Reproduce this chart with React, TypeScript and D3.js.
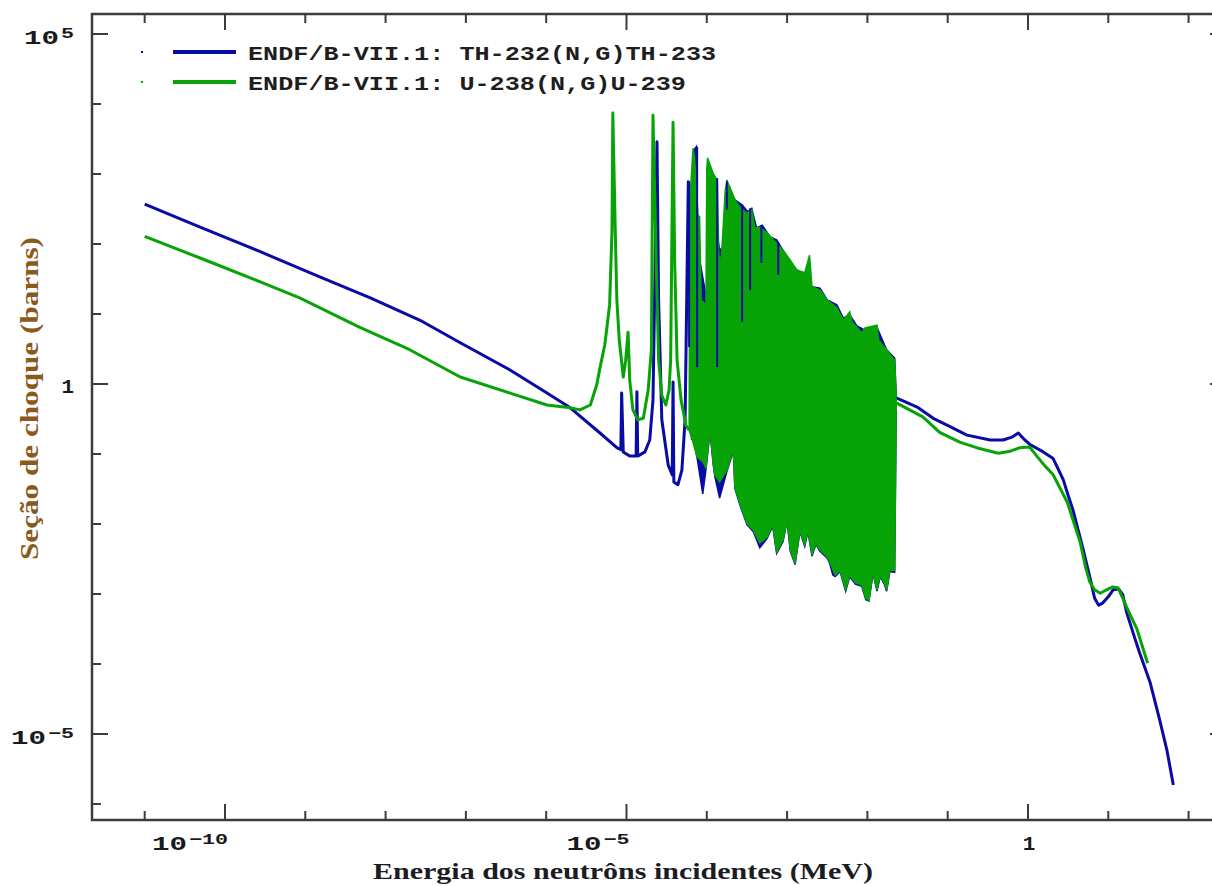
import * as d3 from 'd3'

type P = [number, number]

// all pairs are [log10(E / MeV), log10(sigma / barns)]
const thThermal: P[] = [
  [-11.0, 2.57], [-10.31, 2.24], [-9.56, 1.89], [-8.82, 1.53], [-8.19, 1.23], [-7.57, 0.91],
  [-7.07, 0.59], [-6.45, 0.2], [-5.99, -0.13], [-5.7, -0.34], [-5.33, -0.7], [-5.12, -0.91],
]
const thResolved: P[] = [
  [-5.07, -0.94], [-5.06, -0.13], [-5.04, -0.97], [-4.96, -1.03], [-4.88, -1.03], [-4.87, -0.11],
  [-4.86, -1.03], [-4.77, -0.97], [-4.71, -0.8], [-4.67, -0.23], [-4.65, 1.2], [-4.62, 3.46],
  [-4.6, 1.2], [-4.56, -0.51], [-4.48, -1.16], [-4.43, -1.3], [-4.42, 0.03], [-4.41, -1.4],
  [-4.36, -1.44], [-4.31, -1.23], [-4.27, -0.51], [-4.25, 1.2], [-4.23, 2.89], [-4.21, 1.2],
  [-4.18, -0.8],
]
// unresolved band: upper edge left->right, then lower edge right->left
const thBand: P[] = [
  [-4.17, -0.8], [-4.16, 3.34], [-4.13, 3.39], [-4.11, 1.91], [-4.0, 1.2], [-3.99, 2.99],
  [-3.94, 2.91], [-3.87, 2.13], [-3.84, 1.91], [-3.77, 1.99], [-3.75, 2.91], [-3.71, 2.77],
  [-3.65, 2.63], [-3.56, 2.56], [-3.49, 2.46], [-3.44, 2.51], [-3.38, 2.23], [-3.31, 2.27],
  [-3.21, 2.1], [-3.13, 2.06], [-3.05, 1.91], [-2.96, 1.74], [-2.88, 1.63], [-2.78, 1.56],
  [-2.69, 1.39], [-2.59, 1.37], [-2.5, 1.2], [-2.38, 1.13], [-2.3, 0.94], [-2.22, 0.99],
  [-2.13, 0.83], [-2.03, 0.77], [-1.88, 0.81], [-1.76, 0.49], [-1.66, 0.37], [-1.64, -0.2],
  [-1.66, -2.69], [-1.72, -2.68], [-1.76, -2.96], [-1.79, -2.86], [-1.84, -2.75], [-1.88, -2.96],
  [-1.93, -2.71], [-1.98, -3.1], [-2.02, -3.08], [-2.07, -2.89], [-2.15, -2.86], [-2.22, -2.75],
  [-2.27, -2.96], [-2.34, -2.68], [-2.4, -2.75], [-2.43, -2.73], [-2.47, -2.56], [-2.5, -2.49],
  [-2.59, -2.39], [-2.64, -2.29], [-2.69, -2.46], [-2.74, -2.11], [-2.78, -2.32], [-2.84, -2.11],
  [-2.9, -2.58], [-2.96, -2.39], [-3.0, -1.96], [-3.05, -2.25], [-3.13, -2.42], [-3.18, -2.03],
  [-3.25, -2.21], [-3.34, -2.34], [-3.42, -2.11], [-3.5, -2.01], [-3.59, -1.72], [-3.65, -1.49],
  [-3.67, -0.96], [-3.75, -1.25], [-3.84, -1.63], [-3.9, -1.32], [-3.92, -1.15], [-3.96, -0.68],
  [-4.01, -1.22], [-4.05, -1.57], [-4.12, -1.06],
]
// Th resonances that show through gaps in the U band: [logE, top, bottom]
const thGapSpikes: [number, number, number][] = [
  [-4.22, 2.89, 0.53], [-4.12, 3.39, 0.24], [-3.87, 2.94, 0.24], [-3.75, 2.89, 2.49],
  [-3.56, 2.56, 0.89], [-3.46, 2.51, 1.34], [-3.32, 2.24, 1.73], [-3.11, 2.03, 1.56],
]
const thFast: P[] = [
  [-1.64, -0.2], [-1.38, -0.33], [-1.18, -0.49], [-0.97, -0.61], [-0.76, -0.73], [-0.47, -0.8],
  [-0.31, -0.8], [-0.2, -0.76], [-0.12, -0.7], [-0.04, -0.8], [0.02, -0.86], [0.19, -0.97],
  [0.31, -1.06], [0.37, -1.2], [0.44, -1.37], [0.5, -1.59], [0.56, -1.8], [0.68, -2.33],
  [0.77, -2.76], [0.83, -3.06], [0.88, -3.16], [0.93, -3.13], [1.0, -3.04], [1.06, -2.94],
  [1.13, -2.93], [1.18, -3.01], [1.23, -3.27], [1.33, -3.63], [1.39, -3.84], [1.52, -4.26],
  [1.64, -4.8], [1.73, -5.23], [1.81, -5.73],
]

const uThermal: P[] = [
  [-11.0, 2.11], [-10.31, 1.8], [-9.56, 1.46], [-9.07, 1.23], [-8.32, 0.81], [-7.7, 0.49],
  [-7.07, 0.1], [-6.45, -0.13], [-5.99, -0.3], [-5.7, -0.34], [-5.58, -0.37], [-5.45, -0.3],
  [-5.37, -0.01],
]
const uResolved: P[] = [
  [-5.33, 0.23], [-5.27, 0.56], [-5.24, 0.84], [-5.21, 1.13], [-5.18, 2.2], [-5.17, 3.87],
  [-5.14, 2.2], [-5.12, 1.2], [-5.09, 0.63], [-5.04, 0.1], [-5.01, 0.34], [-4.98, 0.74],
  [-4.96, 0.06], [-4.92, -0.37], [-4.86, -0.51], [-4.79, -0.49], [-4.73, -0.09], [-4.69, 0.49],
  [-4.67, 3.84], [-4.63, 1.77], [-4.6, 0.34], [-4.56, -0.16], [-4.51, -0.3], [-4.47, -0.09],
  [-4.45, 0.34], [-4.42, 3.74], [-4.4, 1.77], [-4.37, 0.34], [-4.32, -0.23], [-4.26, -0.59],
  [-4.22, -0.66],
]
const uBand: P[] = [
  [-4.22, -0.66], [-4.21, 2.63], [-4.18, 3.2], [-4.17, 3.37], [-4.15, 3.2], [-4.11, 2.41],
  [-4.09, 2.39], [-4.07, 1.2], [-4.01, 1.13], [-4.0, 3.06], [-3.99, 3.23], [-3.92, 3.01],
  [-3.87, 2.91], [-3.85, 1.84], [-3.82, 1.77], [-3.8, 2.16], [-3.77, 2.77], [-3.75, 2.89],
  [-3.71, 2.81], [-3.65, 2.63], [-3.59, 2.53], [-3.5, 2.44], [-3.44, 2.49], [-3.4, 2.23],
  [-3.34, 2.24], [-3.25, 2.16], [-3.13, 2.01], [-3.05, 1.91], [-2.96, 1.77], [-2.88, 1.63],
  [-2.78, 1.59], [-2.72, 1.84], [-2.69, 1.39], [-2.59, 1.34], [-2.5, 1.2], [-2.38, 1.09],
  [-2.3, 0.91], [-2.22, 1.03], [-2.19, 0.89], [-2.13, 0.81], [-2.07, 0.73], [-2.03, 0.8],
  [-1.88, 0.84], [-1.86, 0.63], [-1.76, 0.49], [-1.66, 0.34], [-1.64, -0.23],
  [-1.66, -2.66], [-1.72, -2.66], [-1.76, -2.94], [-1.79, -2.84], [-1.84, -2.73], [-1.88, -2.94],
  [-1.93, -2.69], [-1.98, -3.09], [-2.02, -3.06], [-2.07, -2.87], [-2.15, -2.84], [-2.22, -2.73],
  [-2.27, -2.94], [-2.34, -2.66], [-2.4, -2.73], [-2.47, -2.54], [-2.5, -2.47], [-2.59, -2.37],
  [-2.64, -2.27], [-2.69, -2.44], [-2.74, -2.09], [-2.78, -2.3], [-2.84, -2.09], [-2.9, -2.56],
  [-2.96, -2.37], [-3.0, -1.94], [-3.05, -2.23], [-3.13, -2.4], [-3.18, -2.01], [-3.25, -2.19],
  [-3.34, -2.27], [-3.42, -2.09], [-3.5, -1.99], [-3.59, -1.7], [-3.65, -1.47], [-3.67, -0.94],
  [-3.75, -1.23], [-3.84, -1.4], [-3.9, -1.3], [-3.92, -1.13], [-3.96, -0.66], [-4.01, -1.2],
  [-4.05, -1.11], [-4.12, -1.04], [-4.18, -0.8],
]
const uFast: P[] = [
  [-1.64, -0.27], [-1.31, -0.47], [-1.1, -0.69], [-0.85, -0.83], [-0.64, -0.91], [-0.37, -0.99],
  [-0.22, -0.96], [-0.1, -0.91], [0.02, -0.9], [0.11, -1.03], [0.21, -1.17], [0.31, -1.29],
  [0.4, -1.49], [0.49, -1.69], [0.56, -1.94], [0.65, -2.26], [0.72, -2.63], [0.77, -2.83],
  [0.83, -2.94], [0.9, -2.99], [0.98, -2.94], [1.05, -2.9], [1.12, -2.91], [1.18, -3.06],
  [1.23, -3.19], [1.36, -3.51], [1.49, -3.99],
]

const xTickExps = d3.range(-11, 3)
const xLabelExps = [-10, -5, 0]
const yTickExps = d3.range(-6, 6)
const yLabelExps = [-5, 0, 5]
const legendLabels = ['ENDF/B-VII.1: TH-232(N,G)TH-233', 'ENDF/B-VII.1: U-238(N,G)U-239']

const BLUE = '#0a0aa4'
const GREEN = '#07a307'
const AXIS = '#3c3c3c'
const MONO = "'Liberation Mono', 'DejaVu Sans Mono', monospace"
const SERIF = "'Liberation Serif', 'DejaVu Serif', serif"

const sup = (e: number) => (e < 0 ? '\u2212' + String(-e) : String(e))

export default function App() {
  const x = d3.scaleLog().domain([10 ** -11.656, 10 ** 2.466]).range([92, 1226])
  const y = d3.scaleLog().domain([10 ** -6.229, 10 ** 5.286]).range([820, 14])
  const line = d3.line<P>().x(d => x(10 ** d[0])).y(d => y(10 ** d[1]))
  const band = d3.line<P>().x(d => x(10 ** d[0])).y(d => y(10 ** d[1])).curve(d3.curveLinearClosed)

  const [left, right] = x.range()
  const [bottom, top] = y.range()

  const expLabel = (e: number, xEnd: number, base: number, key: string) => {
    const s = sup(e)
    const supW = s.length * 13
    const x0 = xEnd - supW - 37
    return (
      <g key={key} fontFamily={MONO} fontWeight="bold" fill="#1a1a1a">
        <text x={x0} y={base} fontSize={21} textLength={35} lengthAdjust="spacingAndGlyphs">10</text>
        <text x={x0 + 37} y={base - 6} fontSize={15} textLength={supW} lengthAdjust="spacingAndGlyphs">{s}</text>
      </g>
    )
  }

  return (
    <svg width={1212} height={886} style={{ position: 'absolute', left: 0, top: 0, background: '#fff' }}>
      {/* curves: Th-232 underneath, U-238 on top */}
      <path d={line([...thThermal, ...thResolved]) ?? ''} fill="none" stroke={BLUE} strokeWidth={3} strokeLinejoin="round" />
      <path d={band(thBand) ?? ''} fill={BLUE} stroke={BLUE} strokeWidth={1.5} />
      <path d={line(thFast) ?? ''} fill="none" stroke={BLUE} strokeWidth={3} strokeLinejoin="round" />

      <path d={line([...uThermal, ...uResolved]) ?? ''} fill="none" stroke={GREEN} strokeWidth={3} strokeLinejoin="round" />
      <path d={band(uBand) ?? ''} fill={GREEN} stroke={GREEN} strokeWidth={1.5} />
      <path d={line(uFast) ?? ''} fill="none" stroke={GREEN} strokeWidth={3} strokeLinejoin="round" />

      {thGapSpikes.map(([e, hi, lo]) => (
        <line key={e} x1={x(10 ** e)} x2={x(10 ** e)} y1={y(10 ** hi)} y2={y(10 ** lo)} stroke={BLUE} strokeWidth={2} />
      ))}

      {/* frame */}
      <rect x={left} y={top} width={right - left} height={bottom - top} fill="none" stroke={AXIS} strokeWidth={2.5} />
      {xTickExps.map(e => {
        const len = xLabelExps.includes(e) ? 16 : 9
        const px = x(10 ** e)
        return (
          <g key={'xt' + e} stroke={AXIS} strokeWidth={2}>
            <line x1={px} x2={px} y1={bottom} y2={bottom - len} />
            <line x1={px} x2={px} y1={top} y2={top + len} />
          </g>
        )
      })}
      {yTickExps.map(e => {
        const len = yLabelExps.includes(e) ? 16 : 9
        const py = y(10 ** e)
        return (
          <g key={'yt' + e} stroke={AXIS} strokeWidth={2}>
            <line x1={left} x2={left + len} y1={py} y2={py} />
            <line x1={right} x2={right - len} y1={py} y2={py} />
          </g>
        )
      })}

      {/* tick labels */}
      {xLabelExps.map(e =>
        e === 0 ? (
          <text key={'xl' + e} x={x(1) + 1} y={bottom + 30} textAnchor="middle" fontFamily={MONO} fontWeight="bold" fontSize={21} fill="#1a1a1a">1</text>
        ) : (
          expLabel(e, x(10 ** e) + 3, bottom + 30, 'xl' + e)
        )
      )}
      {yLabelExps.map(e =>
        e === 0 ? (
          <text key={'yl' + e} x={74} y={y(1) + 9} textAnchor="end" fontFamily={MONO} fontWeight="bold" fontSize={21} fill="#1a1a1a">1</text>
        ) : (
          expLabel(e, 74, y(10 ** e) + 10, 'yl' + e)
        )
      )}

      {/* axis titles */}
      <text x={373} y={879} fontFamily={SERIF} fontWeight="bold" fontSize={24} fill="#1c1c24" textLength={500} lengthAdjust="spacingAndGlyphs">
        Energia dos neutrôns incidentes (MeV)
      </text>
      <text transform="translate(38,560) rotate(-90)" fontFamily={SERIF} fontWeight="bold" fontSize={25} fill="#8a5a1c" textLength={323} lengthAdjust="spacingAndGlyphs">
        Seção de choque (barns)
      </text>

      {/* legend */}
      {legendLabels.map((t, i) => {
        const c = i === 0 ? BLUE : GREEN
        const ly = 52 + i * 30
        return (
          <g key={t}>
            <rect x={141} y={ly - 1} width={2} height={2} fill={c} />
            <line x1={173} x2={236} y1={ly} y2={ly} stroke={c} strokeWidth={4} />
            <text x={248} y={ly + 8} fontFamily={MONO} fontWeight="bold" fontSize={21} fill="#1e1e1e" textLength={t.length * 15.1} lengthAdjust="spacingAndGlyphs">
              {t}
            </text>
          </g>
        )
      })}
    </svg>
  )
}
